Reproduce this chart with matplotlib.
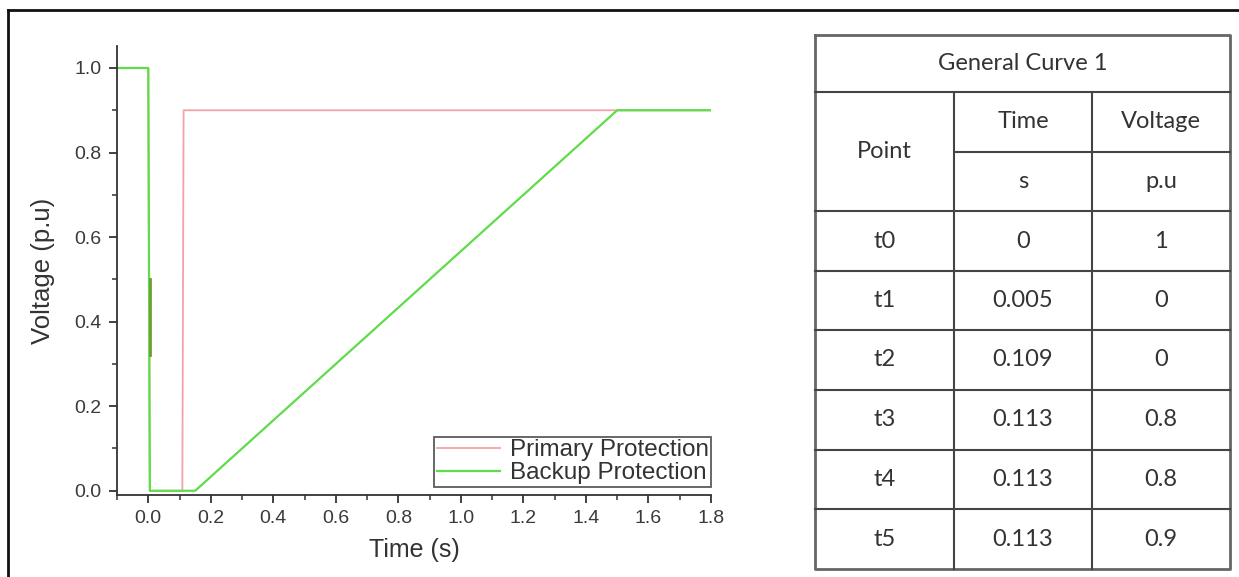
import matplotlib
matplotlib.use("Agg")
from matplotlib import pyplot as plt
from matplotlib.ticker import MultipleLocator
from matplotlib.lines import Line2D

# curves
primary_t = [-0.1, 0.0, 0.005, 0.109, 0.113, 1.8]
primary_v = [1.0, 1.0, 0.0, 0.0, 0.9, 0.9]
backup_t = [-0.1, 0.0, 0.005, 0.15, 1.5, 1.8]
backup_v = [1.0, 1.0, 0.0, 0.0, 0.9, 0.9]
overlap_t = [0.004, 0.004]
overlap_v = [0.32, 0.50]

# table contents
table_title = "General Curve 1"
points = ["t0", "t1", "t2", "t3", "t4", "t5"]
times = ["0", "0.005", "0.109", "0.113", "0.113", "0.113"]
volts = ["1", "0", "0", "0.8", "0.8", "0.9"]

W, H = 1239, 577
fig = plt.figure(figsize=(W / 100, H / 100), dpi=100)
fig.patch.set_facecolor("white")

plt.rcParams['font.family'] = ['Liberation Sans', 'DejaVu Sans']

ax = fig.add_axes([117 / W, 1 - 495 / H, (711 - 117) / W, (495 - 46) / H])
ax.plot(primary_t, primary_v, color="#f2a3a8", lw=1.3, label="Primary Protection")
ax.plot(backup_t, backup_v, color="#5fdc4a", lw=1.6, label="Backup Protection")
ax.plot(overlap_t, overlap_v, color="#6f9e35", lw=2.0)
ax.set_xlim(-0.1, 1.8)
ax.set_ylim(-0.01, 1.052)
ax.xaxis.set_major_locator(MultipleLocator(0.2))
ax.xaxis.set_minor_locator(MultipleLocator(0.1))
ax.yaxis.set_major_locator(MultipleLocator(0.2))
ax.yaxis.set_minor_locator(MultipleLocator(0.1))
ax.xaxis.set_major_formatter(plt.FuncFormatter(lambda v, p: f"{v:.1f}"))
ax.yaxis.set_major_formatter(plt.FuncFormatter(lambda v, p: f"{v:.1f}"))
for s in ["top", "right"]:
    ax.spines[s].set_visible(False)
for s in ["left", "bottom"]:
    ax.spines[s].set_color("#333333")
    ax.spines[s].set_linewidth(1.3)
ax.tick_params(which="major", length=6, width=1.3, color="#333333",
               labelsize=14, labelcolor="#3a3a3a", direction="out", pad=5)
ax.tick_params(which="minor", length=3.5, width=1.1, color="#333333", direction="out")
ax.set_xlabel("Time (s)", fontsize=18, color="#333333", labelpad=8)
ax.set_ylabel("Voltage (p.u)", fontsize=18.5, color="#333333", labelpad=14)
leg = ax.legend(loc="lower right", bbox_to_anchor=(1.0, 0.018), fontsize=17.5,
                frameon=True, fancybox=False, borderpad=0.1, labelspacing=0.05,
                handlelength=2.6, handletextpad=0.4, borderaxespad=0.0)
leg.get_frame().set_edgecolor("#333333")
leg.get_frame().set_linewidth(1.3)
for t in leg.get_texts():
    t.set_color("#333333")

# overlay axes in pixel units for the table and the outer frame
ov = fig.add_axes([0, 0, 1, 1], facecolor="none")
ov.set_xlim(0, W)
ov.set_ylim(H, 0)
ov.axis("off")

ov.add_line(Line2D([8, W], [10, 10], color="#111111", lw=2))
ov.add_line(Line2D([8, 8], [10, H], color="#111111", lw=2))

lc = "#444444"
lw = 1.5
xl, x1, x2, xr = 815, 954, 1092, 1230
rows = [35, 92, 152, 211, 271, 330, 390, 450, 509, 569]
# outer box
ov.plot([xl, xr, xr, xl, xl], [rows[0], rows[0], rows[-1], rows[-1], rows[0]], color="#666666", lw=2)
for y in rows[1:-1]:
    if y == rows[2]:
        ov.plot([x1, xr], [y, y], color=lc, lw=lw)
    else:
        ov.plot([xl, xr], [y, y], color=lc, lw=lw)
for x in (x1, x2):
    ov.plot([x, x], [rows[1], rows[-1]], color=lc, lw=lw)

tf = dict(family=["Lato", "DejaVu Sans"], fontsize=17, color="#333333", ha="center", va="center")
ov.text((xl + xr) / 2, (rows[0] + rows[1]) / 2, table_title, **tf)
ov.text((xl + x1) / 2, (rows[1] + rows[3]) / 2, "Point", **tf)
ov.text((x1 + x2) / 2, (rows[1] + rows[2]) / 2, "Time", **tf)
ov.text((x2 + xr) / 2, (rows[1] + rows[2]) / 2, "Voltage", **tf)
ov.text((x1 + x2) / 2, (rows[2] + rows[3]) / 2, "s", **tf)
ov.text((x2 + xr) / 2, (rows[2] + rows[3]) / 2, "p.u", **tf)
for i, (p, t, v) in enumerate(zip(points, times, volts)):
    yc = (rows[3 + i] + rows[4 + i]) / 2
    ov.text((xl + x1) / 2, yc, p, **tf)
    ov.text((x1 + x2) / 2, yc, t, **tf)
    ov.text((x2 + xr) / 2, yc, v, **tf)

fig.savefig("out.png", dpi=100)
